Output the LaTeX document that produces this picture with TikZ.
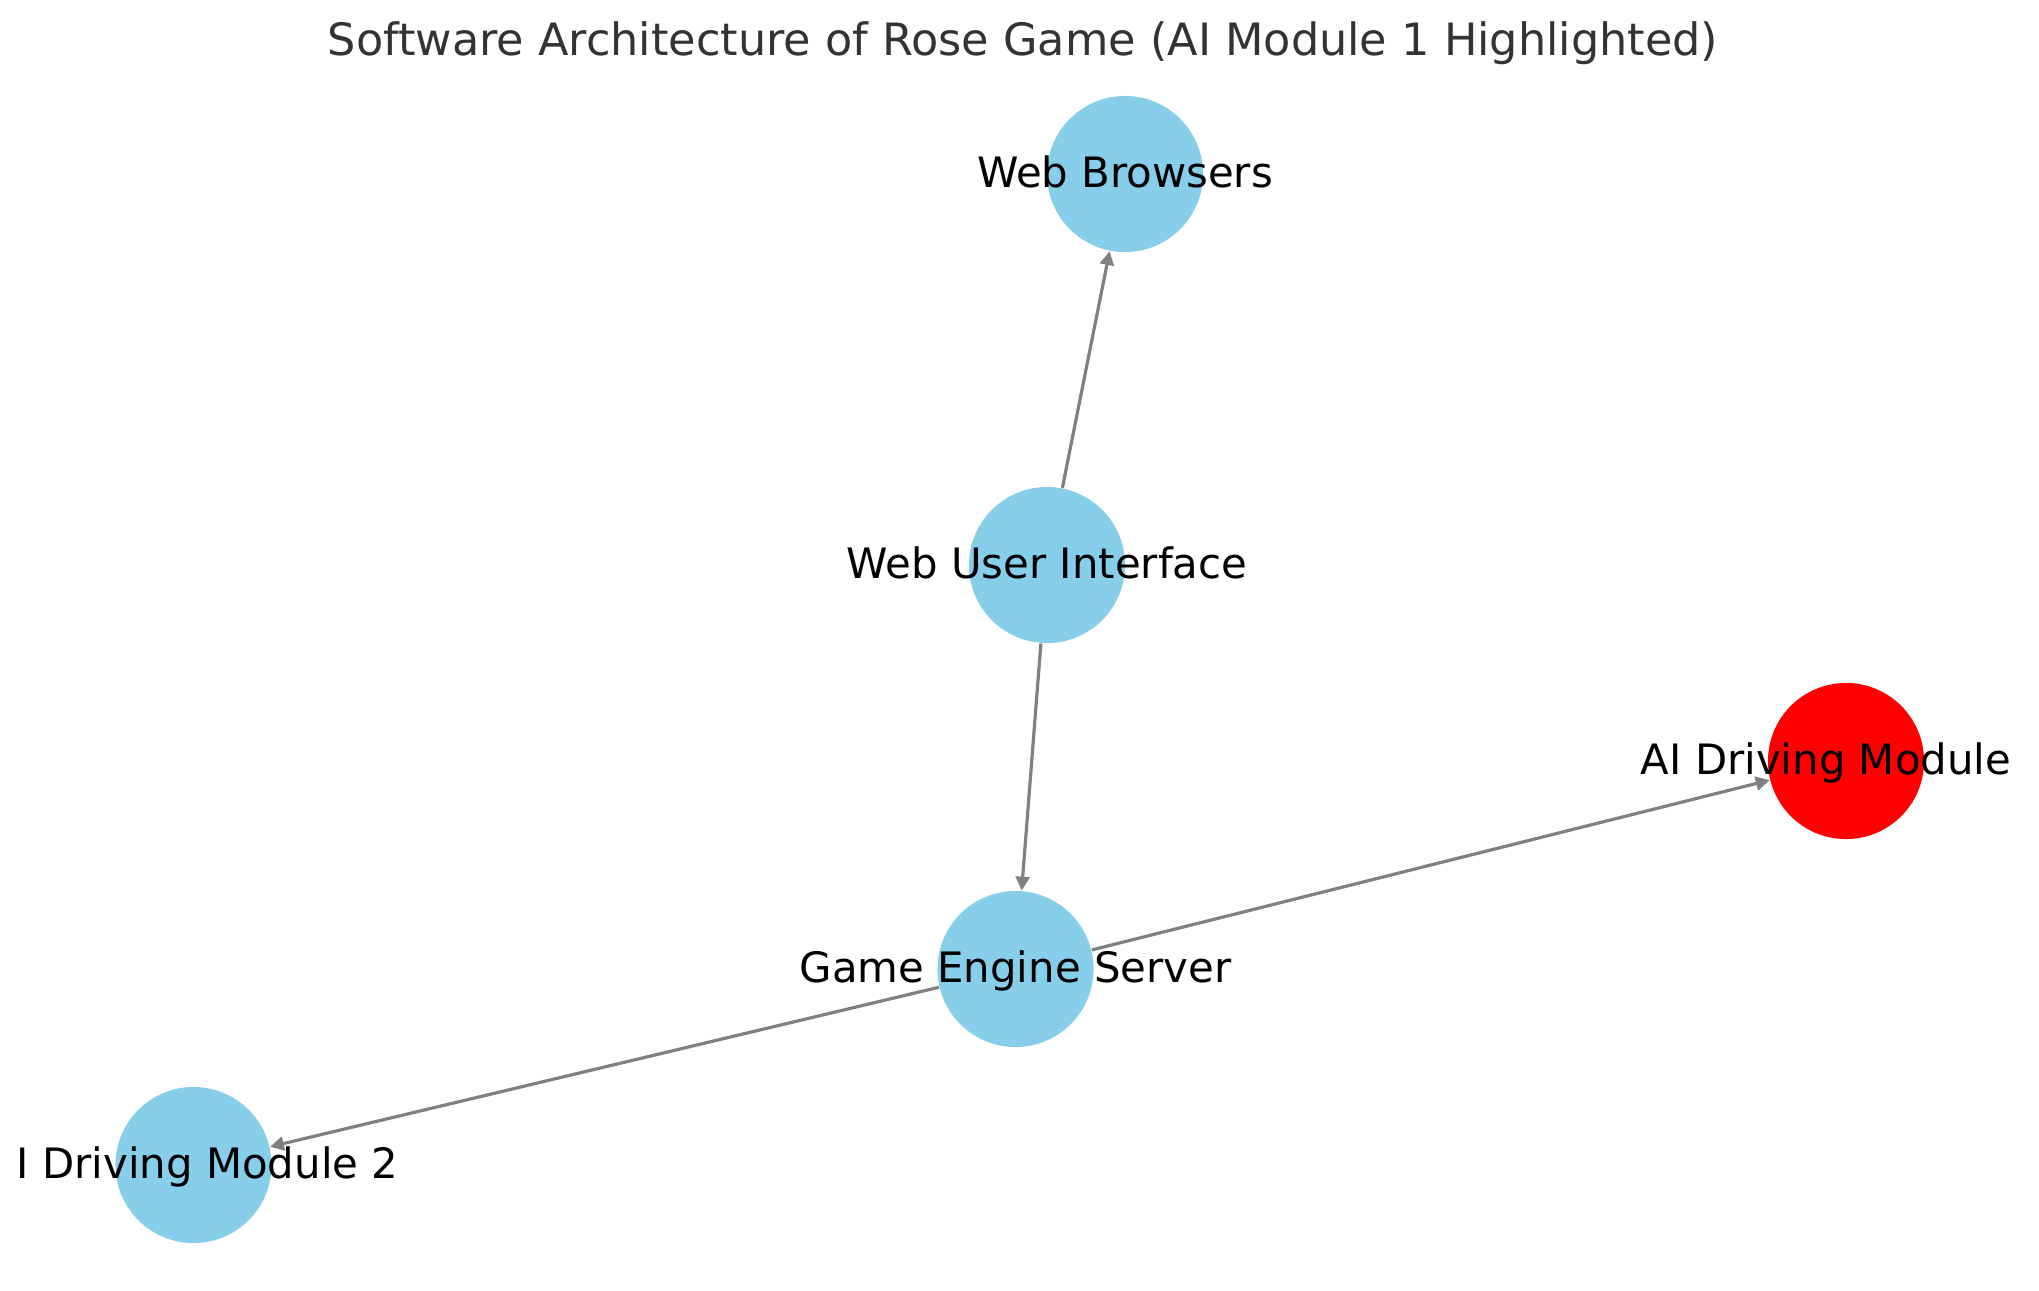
\documentclass[tikz,border=0pt]{standalone}
\usepackage{fontspec}
\setmainfont{DejaVu Sans}
\usepackage{tikz}
\usetikzlibrary{arrows.meta}
\definecolor{skyblue}{HTML}{87CEEB}
\definecolor{edgegray}{HTML}{808080}
\definecolor{titlegray}{HTML}{333333}

\begin{document}
\begin{tikzpicture}[x=0.01cm, y=-0.01cm, main/.style = {circle, fill=skyblue, minimum size=1.56cm, inner sep=0pt}, hot/.style = {main, fill=red}, lbl/.style = {anchor=base, inner sep=0pt, yshift=-0.13cm, font=\fontsize{11.9}{14}\selectfont}, edge/.style = {draw=edgegray, line width=0.032cm, -{Triangle[length=0.138cm, width=0.138cm]}}]
\useasboundingbox (0,0) rectangle (2039,1290);
\node[titlegray, anchor=base, inner sep=0pt, font=\fontsize{12.67}{15}\selectfont] (0) at (1023,55) {Software Architecture of Rose Game (AI Module 1 Highlighted)};
\node[main] (1) at (1125,174) {};
\node[main] (2) at (1047,565) {};
\node[main] (3) at (1015.5,969) {};
\node[hot] (4) at (1846,761) {};
\node[main] (5) at (193.5,1165) {};
\draw[edge] (2) -- (1);
\draw[edge] (2) -- (3);
\draw[edge] (3) -- (4);
\draw[edge] (3) -- (5);
\node[lbl] (1t) at (1.center) {Web Browsers};
\node[lbl] (2t) at (2.center) {Web User Interface};
\node[lbl] (3t) at (3.center) {Game Engine Server};
\node[lbl, xshift=-0.20cm] (4t) at (4.center) {AI Driving Module};
\node[lbl, xshift=0.14cm] (5t) at (5.center) {I Driving Module 2};
\end{tikzpicture}
\end{document}
